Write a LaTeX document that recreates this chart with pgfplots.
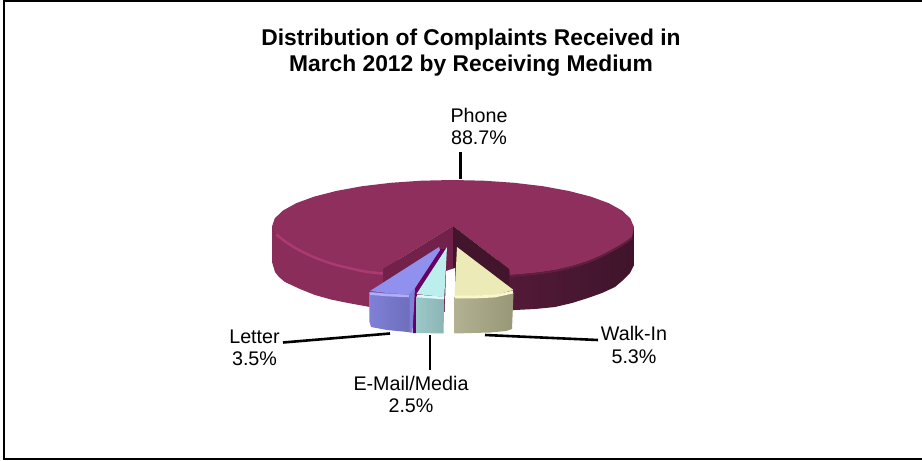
\documentclass[border=0pt]{standalone}
\usepackage{pgfplots}
\pgfplotsset{compat=1.18}
\usepackage{fontspec}
\setmainfont{Liberation Sans}
\definecolor{phoneTop}{HTML}{8E2F5D}
\definecolor{phoneSideL}{HTML}{8B2D5A}
\definecolor{phoneSideM}{HTML}{5E1D3F}
\definecolor{phoneSideN}{HTML}{42152D}
\definecolor{phoneSideR}{HTML}{3F142B}
\definecolor{phoneRim}{HTML}{AB3A72}
\definecolor{wallL}{HTML}{72224A}
\definecolor{wallR}{HTML}{43152D}
\definecolor{letterTop}{HTML}{9090EE}
\definecolor{letterRim}{HTML}{AEAEFA}
\definecolor{letterL}{HTML}{8080D8}
\definecolor{letterR}{HTML}{6E6EBC}
\definecolor{mailTop}{HTML}{BCEEEE}
\definecolor{mailRim}{HTML}{D8FAFA}
\definecolor{mailL}{HTML}{9CC8C8}
\definecolor{mailR}{HTML}{8DB4B4}
\definecolor{walkTop}{HTML}{ECEBB8}
\definecolor{walkRim}{HTML}{FAF8CA}
\definecolor{walkL}{HTML}{B2B292}
\definecolor{walkR}{HTML}{989878}
\definecolor{sliver}{HTML}{660066}
\newcommand{\lbl}{\fontsize{19.7}{22.5}\selectfont}
\newcommand{\ttl}{\fontsize{22.8}{26}\selectfont\bfseries}
\begin{document}
\begin{tikzpicture}
\begin{axis}[
  scale only axis, width=922pt, height=461pt,
  xmin=0, xmax=922, ymin=0, ymax=461, y dir=reverse,
  axis lines=none, ticks=none, no markers,
  axis background/.style={fill=white},
]
% chart frame: open on the right-hand side
\addplot[black, line width=2.6pt] coordinates {(922,1) (4,1) (4,459) (922,459)};

% Phone: rim, left and right
\addplot[draw=none, fill=phoneSideL] coordinates {
 (272,226) (272,262) (275,272) (279,277) (285,282) (300,289) (315,295) (331,299.5) (348,303)
 (370,307) (440,312) (440,260) (383,260) } --cycle;
\addplot[draw=none, left color=phoneSideM, middle color=phoneSideN, right color=phoneSideR] coordinates {
 (634,228) (634,265) (630,273) (622,281) (615,287) (602,293) (588,298) (572,303) (555,307)
 (535,309) (515,310) (440,312) (440,260) (500,260) } --cycle;

% Phone: top face with the wedge cut out of it
\addplot[draw=none, fill=phoneTop] coordinates {
 (272,226.5) (274.7,218.4) (282.9,210.6) (296.2,203.2) (314.2,196.6) (336.5,190.9) (362.2,186.2)
 (390.8,182.8) (421.2,180.7) (452.5,180) (483.8,180.7) (514.2,182.8) (542.8,186.2) (568.5,190.9)
 (590.8,196.6) (608.8,203.2) (622.1,210.6) (630.3,218.4) (634,227)
 (632,237) (625,242) (615,248) (602,255) (588,261) (572,266) (555,270) (538,272.5) (522,274)
 (510,275) (509,269) (453,226) (383,269) (384,272) (365,270) (349,266.5) (332,262) (315,256)
 (298,248) (285,240) (275,232) } --cycle;
\addplot[phoneRim, line width=2.6pt, line cap=round, smooth] coordinates {
 (277,235) (286,242) (299,250) (316,258) (333,264) (349,268) (365,271.5) (383,273.5)};
\addplot[wallR!60!phoneTop, line width=2pt, smooth] coordinates {
 (632,238) (625,243) (615,249) (602,256) (588,262) (572,267) (555,271) (538,273.5) (522,275) (510,276)};

% Phone: inner walls of the cut
\addplot[draw=none, fill=wallL] coordinates {(453,226) (383,269) (383,285) (453,272)} --cycle;
\addplot[draw=none, fill=wallR] coordinates {(453,226) (509,269) (509,285) (453,272)} --cycle;

% gap between the pulled-out wedges
\addplot[draw=none, fill=white] coordinates {(446,271) (455,268) (455,337) (444,337)} --cycle;
\addplot[draw=none, fill=white] coordinates {(409,300) (417,300) (417,337) (409,337)} --cycle;

% Letter wedge
\addplot[draw=none, fill=sliver] coordinates {(440,249) (413.5,291) (413,333) (416,333) (416.5,296) (446,249)} --cycle;
\addplot[draw=none, left color=letterL, right color=letterR] coordinates {
 (369,292) (369.5,322) (371,327) (387,330) (408,332) (410,332) (410,294)} --cycle;
\addplot[draw=none, fill=letterL] coordinates {(409.5,294) (415,288) (412.5,332.5) (409.5,332.5)} --cycle;
\addplot[draw=none, fill=letterTop] coordinates {(439,247) (370,291) (387,293) (409,294.5) (415,288) (440,250)} --cycle;
\addplot[letterRim, line width=2.6pt] coordinates {(370,293.5) (387,295) (409,296)};

% E-Mail/Media wedge
\addplot[draw=none, left color=mailL, right color=mailR] coordinates {
 (416.5,296) (416.5,333) (443.5,333.5) (444.3,297)} --cycle;
\addplot[draw=none, fill=mailTop] coordinates {(447,247) (416.5,294) (430,295.5) (444.3,297)} --cycle;
\addplot[mailRim, line width=2.6pt] coordinates {(417,296) (430,297) (444,298)};

% Walk-In wedge
\addplot[draw=none, left color=walkL, right color=walkR] coordinates {
 (454.5,297) (454.5,333.5) (490,332.5) (506,331) (512,329) (513.5,293)} --cycle;
\addplot[draw=none, fill=walkTop] coordinates {(457,247) (454.5,296) (475,296) (495,295) (513.5,290)} --cycle;
\addplot[walkRim, line width=2.8pt] coordinates {(455,297) (475,297) (495,296) (513,292)};

% leader lines
\addplot[black, line width=2.6pt] coordinates {(460.5,152) (460.5,179)};
\addplot[black, line width=2.6pt] coordinates {(283,342.5) (390,333.5)};
\addplot[black, line width=2.6pt] coordinates {(430,335) (430,370)};
\addplot[black, line width=2.6pt] coordinates {(485,335) (598,340)};

% title and slice labels
\node[align=center, font=\ttl, anchor=center] at (axis cs:471,52.5) {Distribution of Complaints Received in\\March 2012 by Receiving Medium};
\node[align=center, font=\lbl] at (axis cs:479,126.5) {Phone\\88.7\%};
\node[align=center, font=\lbl] at (axis cs:254.5,348) {Letter\\3.5\%};
\node[align=center, font=\lbl] at (axis cs:411,394.5) {E-Mail/Media\\2.5\%};
\node[align=center, font=\lbl] at (axis cs:634,345) {Walk-In\\5.3\%};
\end{axis}
\end{tikzpicture}
\end{document}
